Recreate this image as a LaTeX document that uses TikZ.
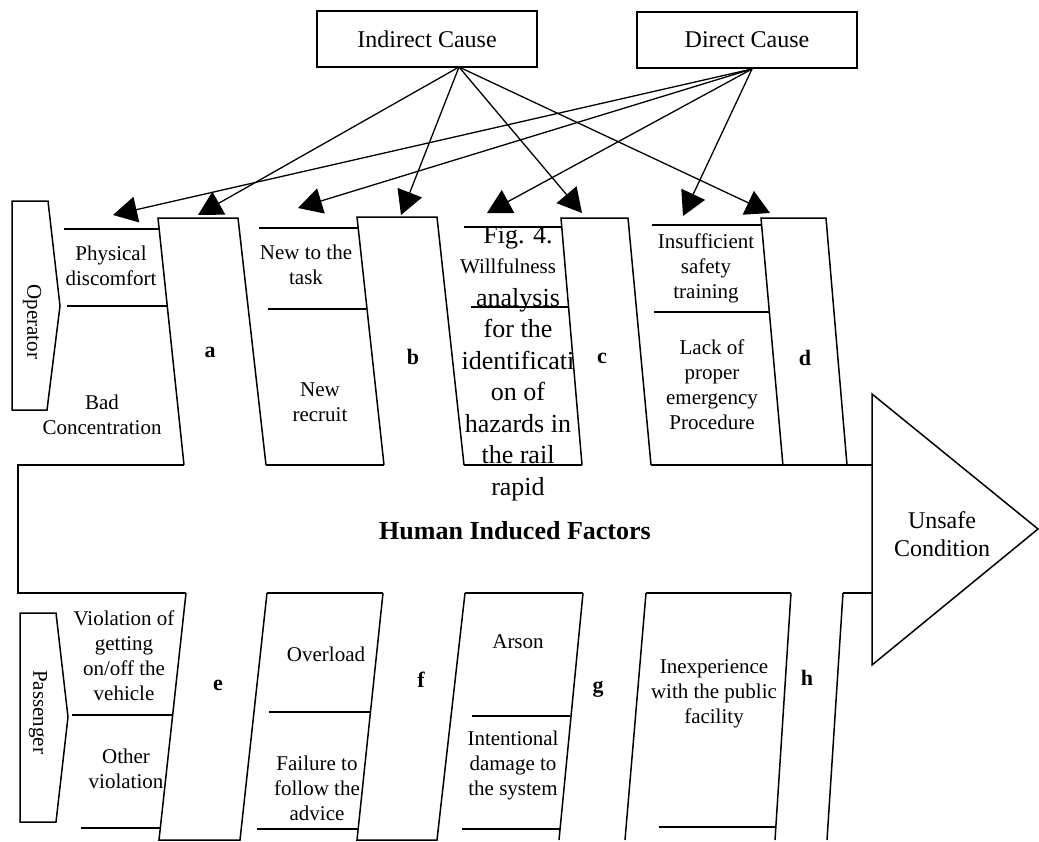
\documentclass[tikz,border=0pt]{standalone}
\usepackage{fontspec}
\setmainfont{Liberation Serif}
\usetikzlibrary{arrows.meta}
\begin{document}
\begin{tikzpicture}[x=1pt,y=-1pt,
  edge/.style={line width=1.5pt, line join=miter},
  sep/.style={line width=1.5pt},
  cause/.style={line width=1.3pt, -{Triangle[length=24pt,width=26pt]}},
  causebox/.style={draw, line width=1.5pt, minimum width=220pt, minimum height=56pt, inner sep=0pt,
    font=\fontsize{24}{28}\selectfont},
  lbl/.style={font=\fontsize{21}{25}\selectfont, align=center, inner sep=0pt},
  head/.style={font=\fontsize{24}{28}\selectfont, align=center, inner sep=0pt},
  letter/.style={font=\fontsize{22}{26}\selectfont\bfseries, inner sep=0pt, anchor=base},
  capt/.style={font=\fontsize{26}{31.5}\selectfont, inner sep=0pt, anchor=base}
]
\useasboundingbox (0,0) rectangle (1039,841);
\fill[white] (0,0) rectangle (1039,841);

% caption text lying under the diagram
\begin{scope}
  \clip (440,227) -- (561,227) -- (582.5,466) -- (600,466) -- (600,515) -- (440,515) -- cycle;
  \node[capt] (cap1) at (518,243) {Fig. 4.};
  \node[capt] (cap2) at (518,306) {analysis};
  \node[capt] (cap3) at (518,337.5) {for the};
  \node[capt] (cap4) at (518,369) {identificati};
  \node[capt] (cap5) at (518,400.5) {on of};
  \node[capt] (cap6) at (518,432) {hazards in};
  \node[capt] (cap7) at (518,463.5) {the rail};
  \node[capt] (cap8) at (518,495) {rapid};
\end{scope}

% cause boxes
\node[causebox] (ind) at (427,39) {Indirect Cause};
\node[causebox] (dir) at (747,40) {Direct Cause};
\coordinate (ind-out) at (459,67);
\coordinate (dir-out) at (752,69);

% arrow targets above the bones
\coordinate (ta) at (198,215);
\coordinate (tb) at (401,215);
\coordinate (tc) at (582,213);
\coordinate (td) at (770,213);
\coordinate (ua) at (113,215);
\coordinate (ub) at (298,208);
\coordinate (uc) at (487,213);
\coordinate (ud) at (683,216);

\draw[cause] (ind-out) -- (ta);
\draw[cause] (ind-out) -- (tb);
\draw[cause] (ind-out) -- (tc);
\draw[cause] (ind-out) -- (td);
\draw[cause] (dir-out) -- (ua);
\draw[cause] (dir-out) -- (ub);
\draw[cause] (dir-out) -- (uc);
\draw[cause] (dir-out) -- (ud);

% fish head
\draw[edge] (872,394) -- (1038,529) -- (872,665) -- cycle;
\node[head] (head) at (942,534) {Unsafe\\Condition};

% fish body outline
\draw[edge] (184,465) -- (18,465) -- (18,593) -- (186,593);
\draw[edge] (266,465) -- (384,465);
\draw[edge] (464,465) -- (582,465);
\draw[edge] (651,465) -- (872,465);
\draw[edge] (267,593) -- (383,593);
\draw[edge] (465,593) -- (583,593);
\draw[edge] (646,593) -- (791,593);
\draw[edge] (843,593) -- (872,593);
\node[font=\fontsize{26}{30}\selectfont\bfseries, inner sep=0pt] (spine) at (515,531) {Human Induced Factors};

% upper bones
\draw[edge] (184,465) -- (158,218) -- (238,218) -- (266,465);
\draw[edge] (384,465) -- (357,217) -- (437,217) -- (464,465);
\draw[edge] (582,465) -- (561,218) -- (628,218) -- (651,465);
\draw[edge] (783,466) -- (761,218) -- (826,218) -- (847,465);

% lower bones
\draw[edge] (186,593) -- (159,840) -- (240,840) -- (267,593);
\draw[edge] (383,593) -- (357,840) -- (437,840) -- (465,593);
\draw[edge] (583,593) -- (559,840);
\draw[edge] (646,593) -- (625,840);
\draw[edge] (791,593) -- (775,840);
\draw[edge] (843,593) -- (827,840);

% separators of the sub-causes
\draw[sep] (64,229) -- (159,229);
\draw[sep] (67,306) -- (167,306);
\draw[sep] (259,228) -- (359,228);
\draw[sep] (268,309) -- (366,309);
\draw[sep] (464,227) -- (561,227);
\draw[sep] (471,307) -- (568,307);
\draw[sep] (652,225) -- (762,225);
\draw[sep] (654,312) -- (770,312);
\draw[sep] (72,715) -- (173,715);
\draw[sep] (81,828) -- (160,828);
\draw[sep] (269,712) -- (370,712);
\draw[sep] (257,829) -- (358,829);
\draw[sep] (472,716) -- (570,716);
\draw[sep] (462,829) -- (560,829);
\draw[sep] (659,827) -- (775,827);

% category tags
\draw[edge] (12,201) -- (48,201) -- (60,306) -- (47,410) -- (12,410) -- cycle;
\node[lbl, rotate=-90] (operator) at (32,322) {Operator};
\draw[edge] (20,613) -- (56,613) -- (68,717) -- (56,822) -- (20,822) -- cycle;
\node[lbl, rotate=-90] (passenger) at (38,712) {Passenger};

% sub-cause texts, operator side
\node[lbl] (phys) at (111,266) {Physical\\discomfort};
\node[lbl] (conc) at (102,415) {Bad\\Concentration};
\node[lbl] (newtask) at (306,265) {New to the\\task};
\node[lbl] (recruit) at (320,402) {New\\recruit};
\node[lbl] (will) at (508,266) {Willfulness};
\node[lbl] (train) at (706,268) {Insufficient\\safety\\training};
\node[lbl] (proc) at (712,385) {Lack of\\proper\\emergency\\Procedure};

% sub-cause texts, passenger side
\node[lbl] (getting) at (124,656) {Violation of\\getting\\on/off the\\vehicle};
\node[lbl] (other) at (126,769) {Other\\violation};
\node[lbl] (overload) at (326,654) {Overload};
\node[lbl] (advice) at (317,788) {Failure to\\follow the\\advice};
\node[lbl] (arson) at (518,642) {Arson};
\node[lbl] (damage) at (513,765) {Intentional\\damage to\\the system};
\node[lbl] (inexp) at (714,694) {Inexperience\\with the public\\facility};

% bone letters
\node[letter] (la) at (210,357) {a};
\node[letter] (lb) at (413,364) {b};
\node[letter] (lc) at (602,363) {c};
\node[letter] (ld) at (805,365) {d};
\node[letter] (le) at (218,690) {e};
\node[letter] (lf) at (421,687) {f};
\node[letter] (lg) at (598,692) {g};
\node[letter] (lh) at (807,685) {h};
\end{tikzpicture}
\end{document}
